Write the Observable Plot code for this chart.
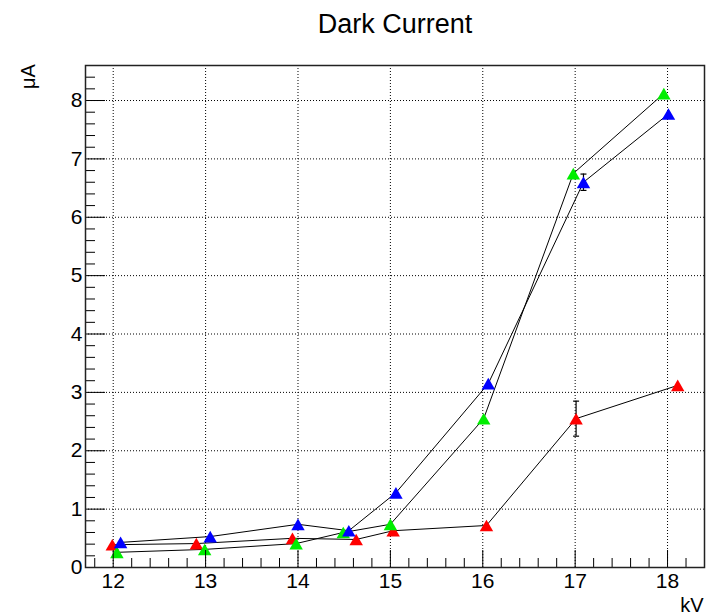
<!DOCTYPE html>
<html><head><meta charset="utf-8">
<script src="https://cdn.jsdelivr.net/npm/d3@7"></script>
<script src="https://cdn.jsdelivr.net/npm/@observablehq/plot@0.6"></script>
<style>body{margin:0;background:#fff} svg{display:block}</style>
</head><body><div id="chart"></div>
<script>
const title = "Dark Current";
const xLabel = "kV";
const yLabel = "μA";
const seriesNames = ["series 1", "series 2", "series 3"];
const seriesColors = ["#ff0000", "#00ee00", "#0000ff"];

const redKV   = [11.99, 12.90, 13.94, 14.63, 15.03, 16.04, 17.01, 18.11];
const redUA   = [0.39, 0.41, 0.50, 0.48, 0.63, 0.72, 2.55, 3.12];
const redErr  = [0, 0, 0, 0, 0, 0, 0.30, 0];

const greenKV = [12.04, 12.99, 13.98, 14.49, 15.00, 16.01, 16.98, 17.96];
const greenUA = [0.26, 0.31, 0.41, 0.60, 0.74, 2.55, 6.75, 8.12];
const greenErr= [0, 0, 0, 0, 0, 0, 0, 0];

const blueKV  = [12.08, 13.05, 14.00, 14.55, 15.06, 16.06, 17.09, 18.01];
const blueUA  = [0.43, 0.53, 0.74, 0.63, 1.28, 3.15, 6.60, 7.77];
const blueErr = [0, 0, 0, 0, 0, 0, 0.14, 0];

const xTicks = [12, 13, 14, 15, 16, 17, 18];
const yTicks = [0, 1, 2, 3, 4, 5, 6, 7, 8];
const xDomain = [11.7, 18.4];
const yDomain = [0, 8.6];

const xMinor = d3.range(59, 92).map(i => +(i * 0.2).toFixed(1)).filter(v => !Number.isInteger(v));
const yMinor = d3.range(1, 43).map(i => +(i * 0.2).toFixed(1)).filter(v => !Number.isInteger(v));

const series = [
  {name: seriesNames[0], kv: redKV, ua: redUA, err: redErr},
  {name: seriesNames[1], kv: greenKV, ua: greenUA, err: greenErr},
  {name: seriesNames[2], kv: blueKV, ua: blueUA, err: blueErr}
];
const points = series.flatMap(s => s.kv.map((x, j) => ({series: s.name, x, y: s.ua[j], err: s.err[j]})));
const errPts = points.filter(d => d.err > 0);
const caps = errPts.flatMap(d => [{x: d.x, y: d.y - d.err}, {x: d.x, y: d.y + d.err}]);

const W = 706, H = 615, mL = 85, mR = 2, mT = 65, mB = 48;
const fw = W - mL - mR, fh = H - mT - mB;

const capSymbol = {draw(ctx, size) { const r = Math.sqrt(size / Math.PI); ctx.moveTo(-r, 0); ctx.lineTo(r, 0); }};

const chart = Plot.plot({
  width: W, height: H,
  marginLeft: mL, marginRight: mR, marginTop: mT, marginBottom: mB,
  style: {fontFamily: "'Liberation Sans', Arial, Helvetica, sans-serif", fontSize: "21px", background: "#fff", color: "#000"},
  x: {domain: xDomain},
  y: {domain: yDomain},
  color: {type: "ordinal", domain: seriesNames, range: seriesColors},
  marks: [
    Plot.gridX(xTicks, {x: d => d, stroke: "#000", strokeOpacity: 1, strokeDasharray: "1,2"}),
    Plot.gridY(yTicks.slice(1), {y: d => d, stroke: "#000", strokeOpacity: 1, strokeDasharray: "1,2"}),
    Plot.line(points, {x: "x", y: "y", z: "series", stroke: "#000", strokeWidth: 1}),
    Plot.ruleX(errPts, {x: "x", y1: d => d.y - d.err, y2: d => d.y + d.err, stroke: "#000", strokeWidth: 1.2}),
    Plot.dot(caps, {x: "x", y: "y", symbol: capSymbol, r: 3, stroke: "#000", strokeWidth: 1.2, fill: "none"}),
    Plot.dot(points, {x: "x", y: "y", fill: "series", symbol: "triangle", r: 5, dy: 2, stroke: "none"}),
    Plot.tickX(xTicks, {x: d => d, insetTop: fh - 17, stroke: "#000"}),
    Plot.tickX(xMinor, {x: d => d, insetTop: fh - 9, stroke: "#000"}),
    Plot.tickY(yTicks, {y: d => d, insetRight: fw - 20, stroke: "#000"}),
    Plot.tickY(yMinor, {y: d => d, insetRight: fw - 10, stroke: "#000"}),
    Plot.axisX(xTicks, {tickSize: 0, tickPadding: 6, label: null, fontSize: 21, tickFormat: d3.format("d")}),
    Plot.axisY(yTicks, {tickSize: 0, tickPadding: 3, label: null, fontSize: 21, tickFormat: d3.format("d")}),
    Plot.frame({stroke: "#222", strokeWidth: 1.5}),
    Plot.text([title], {frameAnchor: "top", dx: 0, dy: -41, fontSize: 27, text: d => d, lineAnchor: "middle"}),
    Plot.text([yLabel], {frameAnchor: "top-left", dx: -57, dy: 11, rotate: -90, fontSize: 20, text: d => d, lineAnchor: "middle", textAnchor: "middle"}),
    Plot.text([xLabel], {frameAnchor: "bottom-right", dx: -1, dy: 38, fontSize: 20, text: d => d, textAnchor: "end", lineAnchor: "middle"})
  ]
});
document.getElementById("chart").appendChild(chart);
</script>
</body></html>
